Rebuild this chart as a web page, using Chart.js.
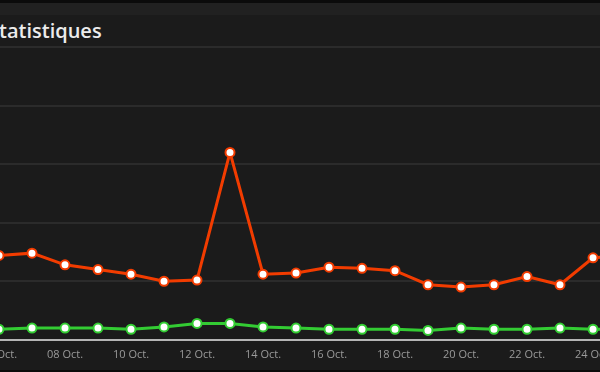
<!DOCTYPE html>
<html>
<head>
<meta charset="utf-8">
<script src="https://cdn.jsdelivr.net/npm/chart.js@4/dist/chart.umd.min.js"></script>
<style>
  html, body { margin: 0; padding: 0; background: #0b0b0b; overflow: hidden; }
  body { width: 600px; height: 372px; position: relative; }
  .panel { position: absolute; left: -40px; top: 3px; width: 700px; height: 367px; background: #1b1b1b; }
  .panel .strip { position: absolute; left: 0; right: 0; top: 0; height: 12px; background: #212121; }
  .title { position: absolute; left: 28px; top: 14px; font: 600 20px "Open Sans", sans-serif; color: #ececec; }
  #chart { position: absolute; left: -40px; top: 0; }
</style>
</head>
<body>
<div class="panel"><div class="strip"></div><div class="title">Statistiques</div></div>
<canvas id="chart" width="700" height="372"></canvas>
<script>
// days shown on the x axis (only even days get a label)
const days = ['06 Oct.', '07 Oct.', '08 Oct.', '09 Oct.', '10 Oct.', '11 Oct.', '12 Oct.',
    '13 Oct.', '14 Oct.', '15 Oct.', '16 Oct.', '17 Oct.', '18 Oct.', '19 Oct.', '20 Oct.',
    '21 Oct.', '22 Oct.', '23 Oct.', '24 Oct.', '25 Oct.'];
// orange series
const pages = [72, 74, 64, 60, 56, 50, 51, 160, 56, 57, 62, 61, 59, 47, 45, 47, 54, 47, 70, 72];
// green series
const visits = [9, 10, 10, 10, 9, 11, 14, 14, 11, 10, 9, 9, 9, 8, 10, 9, 9, 10, 9, 9];
const yTicks = [0, 50, 100, 150, 200, 250];

function series(values, color) {
    return {
        data: values,
        borderColor: color,
        borderWidth: 3,
        pointRadius: 4.5,
        pointBorderWidth: 2,
        pointBackgroundColor: '#ffffff',
        pointBorderColor: color,
        tension: 0
    };
}

new Chart(document.getElementById('chart').getContext('2d'), {
    type: 'line',
    data: {
        labels: days,
        datasets: [series(pages, '#f23c00'), series(visits, '#33cc33')]
    },
    options: {
        responsive: false,
        animation: false,
        layout: { padding: { left: 39, right: 34, top: 47, bottom: 3 } },
        plugins: { legend: { display: false }, tooltip: { enabled: false } },
        scales: {
            x: {
                grid: { display: false, drawTicks: false },
                border: { display: true, color: '#b5b5b5', width: 2 },
                ticks: {
                    color: '#9a9a9a',
                    font: { family: 'Open Sans', size: 11 },
                    padding: 8,
                    maxRotation: 0,
                    autoSkip: false,
                    callback: (v, i) => (i % 2 === 0 ? days[i] : '')
                }
            },
            y: {
                min: yTicks[0],
                max: yTicks[yTicks.length - 1],
                afterBuildTicks: axis => { axis.ticks = yTicks.map(v => ({ value: v })); },
                ticks: { display: false },
                border: { display: false },
                grid: { color: '#2b2b2b', lineWidth: 2, drawTicks: false }
            }
        }
    }
});
</script>
</body>
</html>
